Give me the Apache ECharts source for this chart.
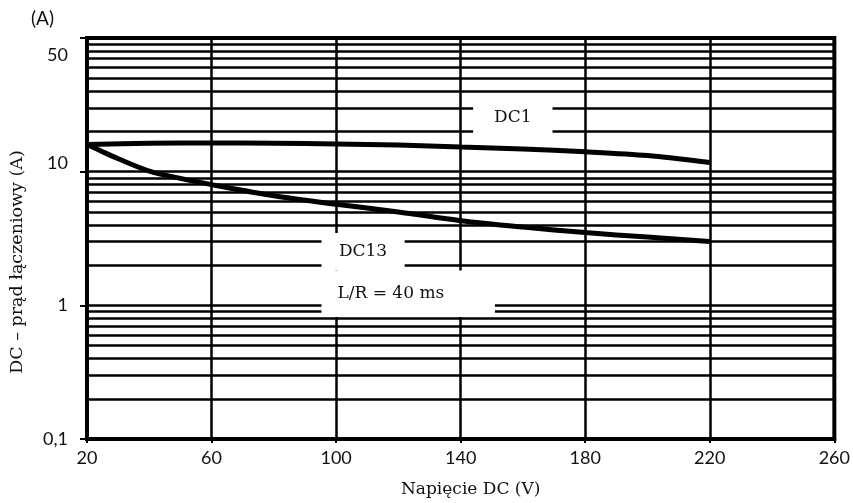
<!DOCTYPE html>
<html>
<head>
<meta charset="utf-8">
<script src="https://cdn.jsdelivr.net/npm/echarts@6/dist/echarts.min.js"></script>
<style>
html,body{margin:0;padding:0;background:#fff;}
#chart{width:853px;height:503px;}
</style>
</head>
<body>
<div id="chart"></div>
<script>
// ---- data ----
var dc1X = [20, 40, 60, 80, 100, 120, 140, 160, 180, 200, 220];
var dc1Y = [16.0, 16.3, 16.4, 16.3, 16.1, 15.8, 15.3, 14.8, 14.1, 13.2, 11.7];
var dc13X = [20, 25, 30, 40, 50, 60, 80, 100, 120, 140, 160, 180, 200, 220];
var dc13Y = [16.0, 14.1, 12.5, 10.1, 8.9, 8.0, 6.6, 5.7, 5.0, 4.3, 3.85, 3.5, 3.24, 3.0];
var xTicks = [20, 60, 100, 140, 180, 220, 260];
var yTickValues = [0.1, 1, 10];
var yTickTexts = ['0,1', '1', '10'];
var yExtraTickValue = 75;
var yExtraTickText = '50';
var yMinorLines = [0.2,0.3,0.4,0.5,0.6,0.7,0.8,0.9, 2,3,4,5,6,7,8,9, 20,30,40,50,60,70,80,90];
var labelDC1 = 'DC1';
var labelDC13 = 'DC13';
var labelLR = 'L/R = 40 ms';
var boxDC1 = [[144, 37], [169.5, 17.6]];
var boxDC13 = [[95.3, 3.47], [122, 1.82]];
var boxLR = [[95.3, 1.82], [151, 0.817]];
var xTitle = 'Napięcie DC (V)';
var yTitle = 'DC – prąd łączeniowy (A)';
var yUnit = '(A)';

function pairs(xs, ys){ return xs.map(function(x,i){ return [x, ys[i]]; }); }

var chart = echarts.init(document.getElementById('chart'), null, {renderer:'canvas'});
var serif = 'DejaVu Serif';
var sans = 'Lato';

var option = {
  animation: false,
  grid: {left: 87, right: 16, top: 38, bottom: 60, show: true, borderColor: '#000', borderWidth: 4, backgroundColor: 'transparent'},
  xAxis: {
    type: 'value', min: xTicks[0], max: xTicks[xTicks.length-1], interval: 40,
    axisLine: {show: true, lineStyle: {color: '#000', width: 4}},
    axisTick: {show: true, length: 4, lineStyle: {color: '#000', width: 2}},
    axisLabel: {color: '#111', fontFamily: sans, fontSize: 18, margin: 10},
    splitLine: {show: true, lineStyle: {color: '#000', width: 2.5}},
    name: xTitle, nameLocation: 'middle', nameGap: 42,
    nameTextStyle: {fontFamily: serif, fontSize: 17, color: '#111', padding: [0,0,0,20]}
  },
  yAxis: {
    type: 'log', logBase: 10, min: 0.1, max: 100,
    axisLine: {show: true, lineStyle: {color: '#000', width: 4}},
    axisTick: {show: true, length: 7, lineStyle: {color: '#000', width: 2}},
    axisLabel: {
      color: '#111', fontFamily: sans, fontSize: 18, margin: 19,
      formatter: function(v){
        for (var i=0;i<yTickValues.length;i++){
          if (Math.abs(v - yTickValues[i]) < 1e-6 * yTickValues[i]) {
            return yTickValues[i] === 10 ? '{hi|' + yTickTexts[i] + '}' : yTickTexts[i];
          }
        }
        return '';
      },
      rich: {hi: {fontFamily: sans, fontSize: 18, color: '#111', padding: [0,0,16,0]}}
    },
    splitLine: {show: true, lineStyle: {color: '#000', width: 2.5}}
  },
  graphic: [
    {type: 'text', left: 31, top: 9, style: {text: yUnit, font: '19px ' + sans, fill: '#111'}},
    {type: 'text', x: 17, y: 262, rotation: Math.PI/2,
     style: {text: yTitle, font: '17.5px "' + serif + '"', fill: '#111', textAlign: 'center', textVerticalAlign: 'middle'}}
  ],
  series: [
    {
      type: 'line', data: [], z: 1, silent: true,
      markLine: {
        silent: true, symbol: ['none','none'], animation: false, z: 1,
        lineStyle: {color: '#000', width: 2.5, type: 'solid'},
        label: {show: false},
        data: yMinorLines.map(function(v){ return {yAxis: v}; }).concat([
          {yAxis: yExtraTickValue, lineStyle: {color: 'rgba(0,0,0,0)', width: 0},
           label: {show: true, position: 'start', formatter: yExtraTickText, distance: 19,
                   color: '#111', fontFamily: sans, fontSize: 18}}
        ])
      }
    },
    {
      type: 'line', data: [], z: 2, silent: true,
      markArea: {
        silent: true, animation: false, z: 3,
        itemStyle: {color: '#fff', opacity: 1},
        label: {show: true, color: '#111', fontFamily: serif, fontSize: 17},
        data: [
          [{coord: boxDC1[0], name: labelDC1, label: {position: 'inside'}}, {coord: boxDC1[1]}],
          [{coord: boxDC13[0], name: labelDC13, label: {position: 'inside'}}, {coord: boxDC13[1]}],
          [{coord: boxLR[0], name: labelLR, label: {position: 'insideLeft', distance: 16}}, {coord: boxLR[1]}]
        ]
      }
    },
    {type: 'line', z: 4, data: pairs(dc1X, dc1Y), smooth: 0.3, symbol: 'none', silent: true,
     lineStyle: {color: '#000', width: 5}},
    {type: 'line', z: 4, data: pairs(dc13X, dc13Y), smooth: 0.3, symbol: 'none', silent: true,
     lineStyle: {color: '#000', width: 5}}
  ]
};
chart.setOption(option);
</script>
</body>
</html>
